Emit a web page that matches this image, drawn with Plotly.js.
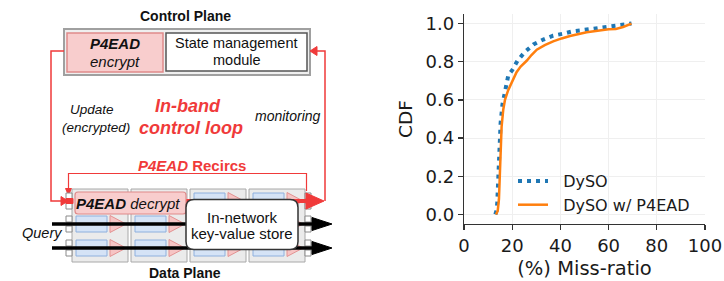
<!DOCTYPE html>
<html>
<head>
<meta charset="utf-8">
<script src="https://cdn.plot.ly/plotly-3.0.1.min.js"></script>
<style>html,body{margin:0;padding:0;background:#fff;}#chart{width:724px;height:281px;}</style>
</head>
<body>
<div id="chart"></div>
<script>
// ---- Data ----
const seriesNames = ["DySO", "DySO w/ P4EAD"];
const dysoMiss = [13.0, 13.5, 13.8, 14.2, 14.6, 15.2, 16.0, 17.0, 17.7, 18.4, 20.0, 22.3, 25.3, 28.8, 32.9, 37.0, 41.2, 45.4, 49.5, 55.0, 60.0, 65.0, 69.5];
const dysoCdf  = [0.0, 0.02, 0.06, 0.20, 0.34, 0.48, 0.58, 0.65, 0.706, 0.73, 0.756, 0.807, 0.852, 0.89, 0.916, 0.937, 0.947, 0.96, 0.966, 0.975, 0.981, 0.99, 1.0];
const p4eadMiss = [13.3, 14.0, 14.5, 14.8, 15.1, 15.6, 16.3, 17.0, 18.3, 19.5, 20.5, 21.8, 23.5, 26.0, 28.0, 30.2, 33.5, 37.0, 40.5, 44.0, 50.9, 55.0, 60.0, 63.0, 66.0, 69.5];
const p4eadCdf  = [0.0, 0.02, 0.08, 0.20, 0.32, 0.46, 0.55, 0.60, 0.65, 0.68, 0.71, 0.745, 0.775, 0.805, 0.835, 0.863, 0.887, 0.907, 0.922, 0.935, 0.954, 0.963, 0.970, 0.972, 0.982, 1.0];
const xTicks = [0, 20, 40, 60, 80, 100];
const yTicks = [0.0, 0.2, 0.4, 0.6, 0.8, 1.0];
const yTickText = ["0.0", "0.2", "0.4", "0.6", "0.8", "1.0"];

// ---- Schematic (left panel) helpers, drawn on a hidden pixel-like axis pair ----
const RED = '#f03a3a';
const shapes = [];
const annotations = [];
function rect(x0, y0, x1, y1, fill, line, w) {
  shapes.push({type: 'rect', xref: 'x2', yref: 'y2', x0, y0, x1, y1,
    fillcolor: fill, line: {color: line, width: w === undefined ? 1 : w}, layer: 'above'});
}
function path(d, fill, line, w) {
  shapes.push({type: 'path', xref: 'x2', yref: 'y2', path: d,
    fillcolor: fill || 'rgba(0,0,0,0)', line: {color: line, width: w === undefined ? 1 : w}, layer: 'above'});
}
function rrect(x0, y0, x1, y1, r, fill, line, w) {
  const d = `M${x0 + r},${y0} L${x1 - r},${y0} Q${x1},${y0} ${x1},${y0 + r} L${x1},${y1 - r} Q${x1},${y1} ${x1 - r},${y1} L${x0 + r},${y1} Q${x0},${y1} ${x0},${y1 - r} L${x0},${y0 + r} Q${x0},${y0} ${x0 + r},${y0} Z`;
  path(d, fill, line, w);
}
function txt(x, y, s, size, color) {
  annotations.push({xref: 'x2', yref: 'y2', x, y, text: s, showarrow: false,
    xanchor: 'center', yanchor: 'middle',
    font: {family: 'Liberation Sans, Arial, sans-serif', size: size, color: color || '#111'}});
}

// Control plane
rect(64, 29, 310, 75, '#efefef', '#a0a0a0', 2);
rect(67, 33, 163, 72, '#f8cdcd', '#df8a8a', 1.5);
rect(166, 33, 307, 71, '#ffffff', '#555555', 1.5);

// Red control loop
path('M64,51 H51 V201 H62', null, RED, 1.5);
path('M61,196.5 L68,201 L61,205.5 Z', RED, RED, 1);
path('M325,201 V51 H317', null, RED, 1.5);
path('M317,46.5 L310,51 L317,55.5 Z', RED, RED, 1);

// Recirc line
path('M306.5,191 V173.5 H68.5 V189', null, RED, 1.2);
path('M65.5,188.5 L68.5,195 L71.5,188.5 Z', RED, RED, 1);

// Pipeline stages
const stageLefts = [72, 131, 190, 249];
const rowCenters = [201, 224, 248];
stageLefts.forEach(x0 => {
  rect(x0, 189, x0 + 56, 262, '#ebebeb', '#a8a8a8', 1);
  rowCenters.forEach(yc => {
    rect(x0 + 4, yc - 8, x0 + 35, yc + 8, '#d5e3f6', '#8eb0de', 1);
    path(`M${x0 + 38},${yc - 8.5} L${x0 + 54},${yc} L${x0 + 38},${yc + 8.5} Z`, '#f6c4c4', '#e39292', 1);
  });
});
// Ports
rowCenters.forEach(yc => {
  [66, 305].forEach(px => {
    rect(px, yc - 8, px + 6, yc - 2, '#ffffff', '#8a8a8a', 1);
    rect(px, yc + 2, px + 6, yc + 8, '#ffffff', '#8a8a8a', 1);
  });
});
rect(66, 198.5, 73, 203.5, RED, RED, 1);

// Thick red recirculation arrow
path('M184,201 H308', null, RED, 4);
path('M306,193 L324,201 L306,209 Z', RED, RED, 1);

// Query arrows
[224, 248].forEach(y => {
  path(`M52,${y} H316`, null, '#000000', 3.5);
  path(`M312,${y - 6.5} L332,${y} L312,${y + 6.5} Z`, '#000000', '#000000', 1);
});

// Decrypt box and KV store box
rrect(75, 192, 186, 214, 3, '#f8cdcd', '#df8a8a', 1.2);
rrect(186, 199.5, 298, 249.5, 8, '#ffffff', '#333333', 1.5);

// Texts
txt(185, 16, '<b>Control Plane</b>', 14);
txt(115, 43, '<b><i>P4EAD</i></b>', 15);
txt(115, 61, '<i>encrypt</i>', 15);
txt(236.5, 43, 'State management', 14.5);
txt(236.5, 60, 'module', 14.5);
txt(92, 109, '<i>Update</i>', 13.5);
txt(96, 127, '<i>(encrypted)</i>', 13.5);
txt(188, 106, '<b><i>In-band</i></b>', 18, RED);
txt(190.5, 128, '<b><i>control loop</i></b>', 18, RED);
txt(288, 116, '<i>monitoring</i>', 14);
txt(192, 165, '<b><i>P4EAD</i> Recircs</b>', 15, RED);
txt(128, 203, '<b><i>P4EAD</i></b><i> decrypt</i>', 15);
txt(242, 217, 'In-network', 15);
txt(242, 233, 'key-value store', 15);
txt(41.5, 233, '<i>Query</i>', 14.5);
txt(185, 272.5, '<b>Data Plane</b>', 14);

// ---- Traces ----
const pad = '\u00a0\u00a0';
const traces = [
  {x: dysoMiss, y: dysoCdf, name: pad + seriesNames[0], type: 'scatter', mode: 'lines',
   line: {color: '#1f77b4', width: 4, dash: '4px,5px'}, xaxis: 'x', yaxis: 'y'},
  {x: p4eadMiss, y: p4eadCdf, name: pad + seriesNames[1], type: 'scatter', mode: 'lines',
   line: {color: '#ff7f0e', width: 2.5}, xaxis: 'x', yaxis: 'y'},
  {x: [], y: [], xaxis: 'x2', yaxis: 'y2', showlegend: false, hoverinfo: 'skip', type: 'scatter'}
];

const axFont = {family: 'DejaVu Sans, sans-serif', size: 18, color: '#1a1a1a'};
const layout = {
  width: 724, height: 281,
  margin: {l: 0, r: 0, t: 0, b: 0},
  paper_bgcolor: '#ffffff', plot_bgcolor: 'rgba(0,0,0,0)',
  showlegend: true,
  font: {family: 'DejaVu Sans, sans-serif'},
  xaxis: {domain: [464 / 724, 705 / 724], range: [0, 100], autorange: false, anchor: 'y',
    tickvals: xTicks, ticks: 'outside', ticklen: 5, tickwidth: 1.2, tickcolor: '#333',
    showline: true, linecolor: '#333', linewidth: 1.3, mirror: false,
    showgrid: true, gridcolor: '#efefef', gridwidth: 1, zeroline: false,
    tickfont: axFont,
    title: {text: '(%) Miss-ratio', font: {family: 'DejaVu Sans, sans-serif', size: 19.5, color: '#1a1a1a'}, standoff: 6}},
  yaxis: {domain: [57 / 281, 267 / 281], range: [-0.05, 1.05], autorange: false, anchor: 'x',
    tickvals: yTicks, ticktext: yTickText, ticks: 'outside', ticklen: 5, tickwidth: 1.2, tickcolor: '#333',
    showline: true, linecolor: '#333', linewidth: 1.3, mirror: false,
    showgrid: true, gridcolor: '#efefef', gridwidth: 1, zeroline: false,
    tickfont: axFont,
    title: {text: 'CDF', font: {family: 'DejaVu Sans, sans-serif', size: 18.5, color: '#1a1a1a'}, standoff: 8}},
  xaxis2: {domain: [0, 1], range: [0, 724], autorange: false, visible: false, fixedrange: true, anchor: 'y2'},
  yaxis2: {domain: [0, 1], range: [281, 0], autorange: false, visible: false, fixedrange: true, anchor: 'x2'},
  legend: {x: 513 / 724, y: 1 - 164 / 281, xanchor: 'left', yanchor: 'top',
    bgcolor: 'rgba(0,0,0,0)', borderwidth: 0,
    font: {family: 'DejaVu Sans, sans-serif', size: 16, color: '#1a1a1a'}, tracegroupgap: 0},
  shapes: shapes,
  annotations: annotations
};

Plotly.newPlot('chart', traces, layout, {staticPlot: true, displayModeBar: false});
</script>
</body>
</html>
